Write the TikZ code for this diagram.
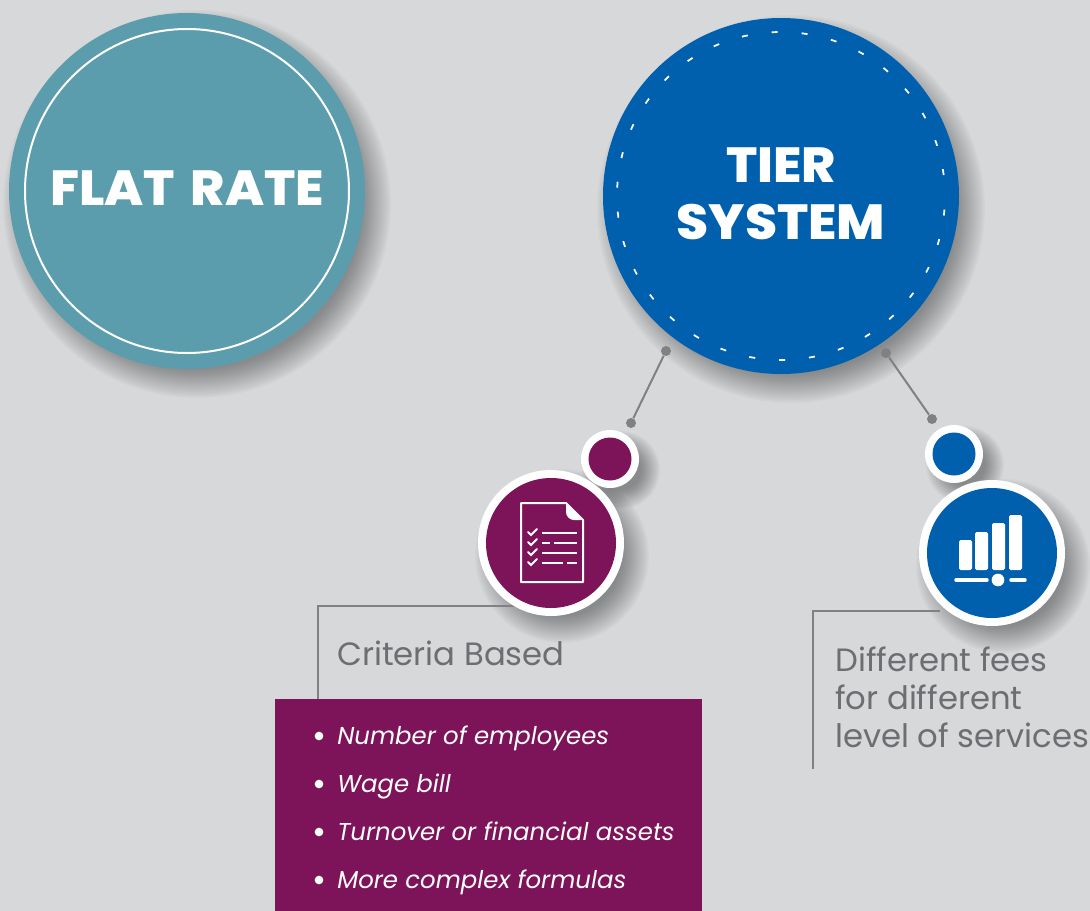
\documentclass[tikz,border=0pt]{standalone}
\usepackage{fontspec}
\usepackage{xcolor}
\setmainfont{Poppins}
\newfontfamily\headfont[FakeStretch=1.05,WordSpace=1.6]{Poppins ExtraBold}

\definecolor{bggrey}{HTML}{D7D8DA}
\definecolor{flatteal}{HTML}{5B9DAC}
\definecolor{tierblue}{HTML}{0060AE}
\definecolor{critpurple}{HTML}{7D1459}
\definecolor{linegrey}{HTML}{808183}
\definecolor{textgrey}{HTML}{6D6E71}

% soft shadow: x, y, outer radius, inner radius
\newcommand{\softshadow}[4]{
  \foreach \k in {0,...,19} {
    \fill[black, fill opacity=0.018] (#1,#2) circle ({#3-(#3-#4)*\k/19});
  }
}

\tikzset{
  disc/.style={circle, inner sep=0pt, minimum size=#1*0.75pt},
  ringdisc/.style={disc=#1, fill=white},
  pin/.style={circle, inner sep=0pt, fill=linegrey, minimum size=7.5pt},
  wire/.style={draw=linegrey, line width=1.5pt},
  headtext/.style={text=white, font=\fontsize{37}{42}\headfont, align=center},
  greytext/.style={text=textgrey, font=\fontsize{24.2}{28.5}\selectfont, anchor=base west, align=left, inner sep=0pt},
  listtext/.style={text=white, font=\fontsize{18.3}{21}\selectfont\itshape, anchor=base west, inner sep=0pt},
  bulletdot/.style={circle, inner sep=0pt, fill=white, minimum size=6.5pt},
  iconline/.style={draw=white, line width=1.5pt}
}

\begin{document}
\begin{tikzpicture}[x=0.75pt, y=-0.75pt]

% Canvas
\fill[bggrey] (0,0) rectangle (1090,911);
\useasboundingbox (0,0) rectangle (1090,911);

% Shadows
\softshadow{197}{204}{194}{165}
\softshadow{791}{209}{194}{165}
\softshadow{621}{470}{39}{20}
\softshadow{965}{465}{39}{20}
\softshadow{562}{556}{87}{60}
\softshadow{1003}{566}{87}{60}

% Criteria and fees frames
\coordinate (critbottom) at (318,699);
\coordinate (critcorner) at (318,606);
\coordinate (critend) at (520,606);
\coordinate (feebottom) at (813,769);
\coordinate (feecorner) at (813,611);
\coordinate (feeend) at (940,611);
\draw[wire] (critbottom) -- (critcorner) -- (critend);
\draw[wire] (feebottom) -- (feecorner) -- (feeend);

% Flat rate circle
\node[disc=356, fill=flatteal] (flat) at (187,191) {};
\node[disc=324, draw=white, line width=1.5pt] (flatring) at (flat) {};
\node[headtext] (flattext) at (187,188) {FLAT RATE};

% Tier system circle
\node[disc=356, fill=tierblue] (tier) at (781,196) {};
\node[disc=328, draw=white, line width=1.3pt, dash pattern=on 4.5pt off 18pt, dash phase=6.75pt] (tierring) at (tier) {};
\node[headtext] (tiertext) at (781,165) {TIER};
\node[headtext] (systemtext) at (781,222) {SYSTEM};

% Connectors
\node[pin] (pinA) at (666,351) {};
\node[pin] (pinB) at (631,423) {};
\node[pin] (pinC) at (886,353) {};
\node[pin] (pinD) at (932,419) {};
\draw[wire] (pinA) -- (pinB);
\draw[wire] (pinC) -- (pinD);

% Small circles
\node[ringdisc=58] (critsmall) at (610,459) {};
\node[disc=43, fill=critpurple] at (critsmall) {};
\node[ringdisc=58] (feesmall) at (954,454) {};
\node[disc=43, fill=tierblue] at (feesmall) {};

% Big circles
\node[ringdisc=146] (critbig) at (551,543) {};
\node[disc=130, fill=critpurple] at (critbig) {};
\node[ringdisc=146] (feebig) at (992,553) {};
\node[disc=130, fill=tierblue] at (feebig) {};

% Document icon
\draw[iconline, line join=round] (566,503) -- (521,503) -- (521,582) -- (583,582) -- (583,520) -- cycle;
\fill[white, rounded corners=2pt] (566,503) -- (583,520) -- (571,520) -- (566,515) -- cycle;
\foreach \y/\xa in {533/577, 543/550, 553/577, 563/563} {
  \draw[iconline, line cap=round] (528,\y-1) -- (531,\y+2) -- (537,\y-4);
  \draw[iconline] (542,\y) -- (\xa,\y);
}
\draw[iconline] (554,543) -- (577,543);
\draw[iconline] (567,563) -- (577,563);

% Bars icon
\foreach \xa/\ytop in {959/540, 975/532, 992/523, 1009/515} {
  \fill[white, rounded corners=1.2pt] (\xa,\ytop) rectangle (\xa+13,570);
}
\draw[white, line width=2.6pt, line cap=round] (956,580) -- (987,580);
\draw[white, line width=2.6pt, line cap=round] (1011,580) -- (1025,580);
\node[circle, inner sep=0pt, fill=white, minimum size=9.5pt] (feeknob) at (998,580) {};

% Purple list
\fill[critpurple] (275,699) rectangle (702,911);
\foreach \y/\txt in {736/Number of employees, 784/Wage bill, 832/Turnover or financial assets, 880/More complex formulas} {
  \node[bulletdot] at (319,\y) {};
  \node[listtext] at (337,\y+8) {\txt};
}

% Grey labels
\node[greytext] (crittext) at (337,665) {Criteria Based};
\node[greytext] (feetext) at (835,747) {Different fees\\for different\\level of services};

\end{tikzpicture}
\end{document}
